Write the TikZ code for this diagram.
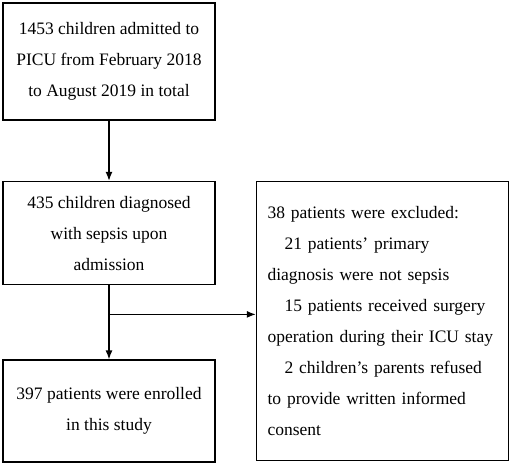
\documentclass[tikz,border=0pt]{standalone}
\usepackage{fontspec}
\setmainfont{Liberation Serif}
\usetikzlibrary{arrows.meta, positioning, calc}
\tikzset{
  card/.style={rectangle, draw=black, line width=1.6pt, align=center,
               font=\fontsize{17.5}{31}\selectfont, inner sep=0pt},
  stagebox/.style={card, minimum width=212pt},
  exclbox/.style={card, align=left, minimum width=252pt, minimum height=279pt,
                  text width=230pt},
  flow/.style={-{Latex[length=9pt, width=7pt]}, line width=1.3pt, draw=black},
}
\def\firstgap{60pt}
\def\secondgap{74pt}
\def\sidegap{40pt}
\def\splitdrop{29pt}
\def\subind{\hspace*{17pt}}

\begin{document}
\begin{tikzpicture}[x=1pt, y=1pt]
\useasboundingbox (0,0) rectangle (510,463);

% Main stages
\node[stagebox, minimum height=117pt] (admit) at (109,401.5)
  {1453 children admitted to\\PICU from February 2018\\to August 2019 in total};
\node[stagebox, minimum height=103pt, below=\firstgap of admit] (diag)
  {435 children diagnosed\\with sepsis upon\\admission};
\node[stagebox, minimum height=102pt, below=\secondgap of diag] (enrol)
  {397 patients were enrolled\\in this study};

% Exclusions
\node[exclbox, anchor=north west] (excl) at ($(diag.north east)+(\sidegap,0)$)
  {38 patients were excluded:\\
   \subind 21 patients' primary\\
   diagnosis were not sepsis\\
   \subind 15 patients received surgery\\
   operation during their ICU stay\\
   \subind 2 children's parents refused\\
   to provide written informed\\
   consent};

% Flow
\coordinate (split) at ($(diag.south)+(0,-\splitdrop)$);
\draw[flow] (admit) -- (diag);
\draw[flow] (diag) -- (enrol);
\draw[flow] (split) -- (split -| excl.west);

\end{tikzpicture}
\end{document}
